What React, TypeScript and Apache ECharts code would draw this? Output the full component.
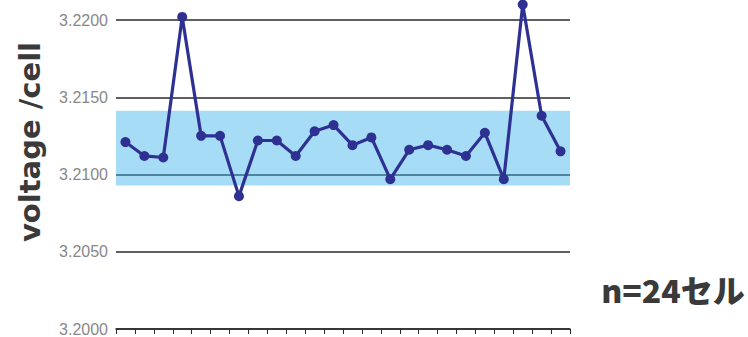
import React, { useEffect, useRef } from "react";
import * as echarts from "echarts";

const categories: string[] = Array.from({ length: 24 }, (_, i) => String(i + 1));
const voltages: number[] = [
  3.2121, 3.2112, 3.2111, 3.2202, 3.2125, 3.2125, 3.2086, 3.2122,
  3.2122, 3.2112, 3.2128, 3.2132, 3.2119, 3.2124, 3.2097, 3.2116,
  3.2119, 3.2116, 3.2112, 3.2127, 3.2097, 3.2210, 3.2138, 3.2115,
];
const bandRange: number[] = [3.20928, 3.21412];
const yTicks = { min: 3.2, max: 3.22, interval: 0.005 };
const yTitle = "voltage /cell";
const noteText = "n=24セル";

export default function App() {
  const ref = useRef<HTMLDivElement>(null);
  useEffect(() => {
    document.body.style.margin = "0";
    const chart = echarts.init(ref.current!, null, { renderer: "svg" });
    chart.setOption({
      animation: false,
      backgroundColor: "#ffffff",
      grid: { left: 116, right: 178, top: 20, bottom: 5, containLabel: false },
      xAxis: {
        type: "category",
        data: categories,
        boundaryGap: true,
        axisLine: { show: true, lineStyle: { color: "#2a2a2a", width: 1.5 } },
        axisTick: { show: true, interval: 0, length: 5, lineStyle: { color: "#2a2a2a", width: 1 } },
        axisLabel: { show: false },
        splitLine: { show: false },
      },
      yAxis: {
        type: "value",
        min: yTicks.min,
        max: yTicks.max,
        interval: yTicks.interval,
        axisLine: { show: false },
        axisTick: { show: false },
        axisLabel: {
          margin: 8,
          color: "#888",
          fontSize: 16,
          fontFamily: "Liberation Sans",
          formatter: (v: number) => v.toFixed(4),
        },
        splitLine: { show: true, lineStyle: { color: "#2a2a2a", width: 1.5 } },
      },
      series: [
        {
          type: "line",
          data: voltages,
          clip: false,
          symbol: "circle",
          symbolSize: 10,
          lineStyle: { color: "#2e3192", width: 3.2 },
          itemStyle: { color: "#2e3192" },
          markArea: {
            silent: true,
            itemStyle: { color: "rgba(57,177,233,0.45)" },
            data: [[{ yAxis: bandRange[0] }, { yAxis: bandRange[1] }]],
          },
        },
      ],
      graphic: [
        {
          type: "text",
          x: 30,
          y: 142,
          rotation: Math.PI / 2,
          style: {
            text: yTitle,
            fontSize: 29,
            fontWeight: "bold",
            fontFamily: "DejaVu Sans",
            fill: "#3a3a3a",
            textAlign: "center",
            textVerticalAlign: "middle",
          },
        },
        {
          type: "text",
          x: 673,
          y: 289,
          style: {
            text: noteText,
            fontSize: 32,
            fontWeight: 900,
            fontFamily: "Noto Sans CJK JP",
            fill: "#3a3a3a",
            textAlign: "center",
            textVerticalAlign: "middle",
          },
        },
      ],
    });
    return () => chart.dispose();
  }, []);
  return <div ref={ref} style={{ width: 748, height: 337 }} />;
}
